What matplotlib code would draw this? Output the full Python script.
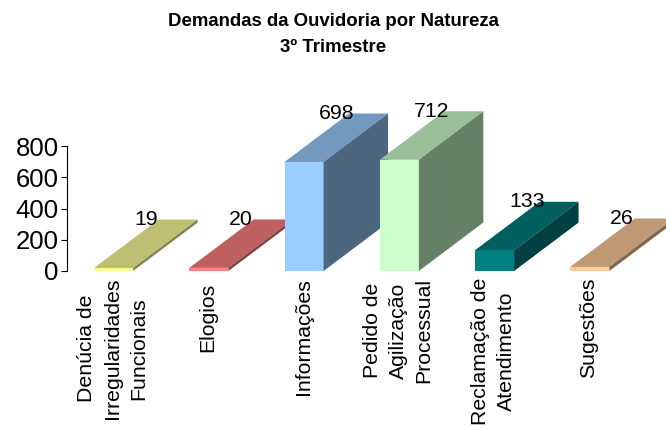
import matplotlib
matplotlib.use("Agg")
import matplotlib.pyplot as plt
from matplotlib.patches import Polygon
from matplotlib.transforms import ScaledTranslation

categorias = ["Denúcia de\nIrregularidades\nFuncionais", "Elogios", "Informações",
              "Pedido de\nAgilização\nProcessual", "Reclamação de\nAtendimento", "Sugestões"]
valores = [19, 20, 698, 712, 133, 26]
frente = ["#FFFF99", "#FF8080", "#99CCFF", "#CCFFCC", "#008080", "#FFCC99"]
topo = ["#BFBF73", "#BF6060", "#7399BF", "#99BF99", "#006060", "#BF9973"]
lado = ["#80804D", "#804040", "#4D6680", "#668066", "#004040", "#80664D"]

plt.rcParams["font.family"] = ["Liberation Sans", "DejaVu Sans"]

W, H = 666, 428
fig = plt.figure(figsize=(W / 100, H / 100), dpi=100)
ax = fig.add_axes([66.5 / W, 1 - 271 / H, (W - 66.5) / W, 125 / H])
ax.set_xlim(-0.494, 5.80)
ax.set_ylim(0, 800)

larg = 0.41
dx = 0.677   # profundidade em unidades de categoria
dy = 310     # profundidade em unidades de valor

for i, v in enumerate(valores):
    e, d = i - larg / 2, i + larg / 2
    ax.add_patch(Polygon([(e, 0), (d, 0), (d, v), (e, v)], fc=frente[i], ec="none", clip_on=False))
    ax.add_patch(Polygon([(e, v), (d, v), (d + dx, v + dy), (e + dx, v + dy)], fc=topo[i], ec="none", clip_on=False))
    ax.add_patch(Polygon([(d, 0), (d + dx, dy), (d + dx, v + dy), (d, v)], fc=lado[i], ec="none", clip_on=False))
    ax.text(i + 0.34, v + dy, str(v), fontsize=15.3, ha="center", va="center", clip_on=False)

for s in ["top", "right", "bottom"]:
    ax.spines[s].set_visible(False)
ax.spines["left"].set_linewidth(0.8)
ax.set_yticks([0, 200, 400, 600, 800])
ax.tick_params(axis="y", labelsize=18.5, length=4, width=0.8, pad=1.5)
ax.set_xticks(range(len(categorias)))
ax.set_xticklabels(categorias, rotation=90, fontsize=15.3, ha="center", va="top", multialignment="center", linespacing=1.45)
ax.tick_params(axis="x", length=0, pad=5)

# pequenos ajustes dos rotulos em pixels
for i, rot in enumerate(ax.get_xticklabels()):
    desce = 5 if i == 1 else 0
    rot.set_transform(rot.get_transform() + ScaledTranslation(-1 / 100, -desce / 100, fig.dpi_scale_trans))

fig.text(0.5, 1 - 21.5 / H, "Demandas da Ouvidoria por Natureza", fontsize=13.4, fontweight="bold", ha="center", va="center")
fig.text(0.5, 1 - 47.5 / H, "3º Trimestre", fontsize=13.4, fontweight="bold", ha="center", va="center")

fig.savefig("out.png", dpi=100)
